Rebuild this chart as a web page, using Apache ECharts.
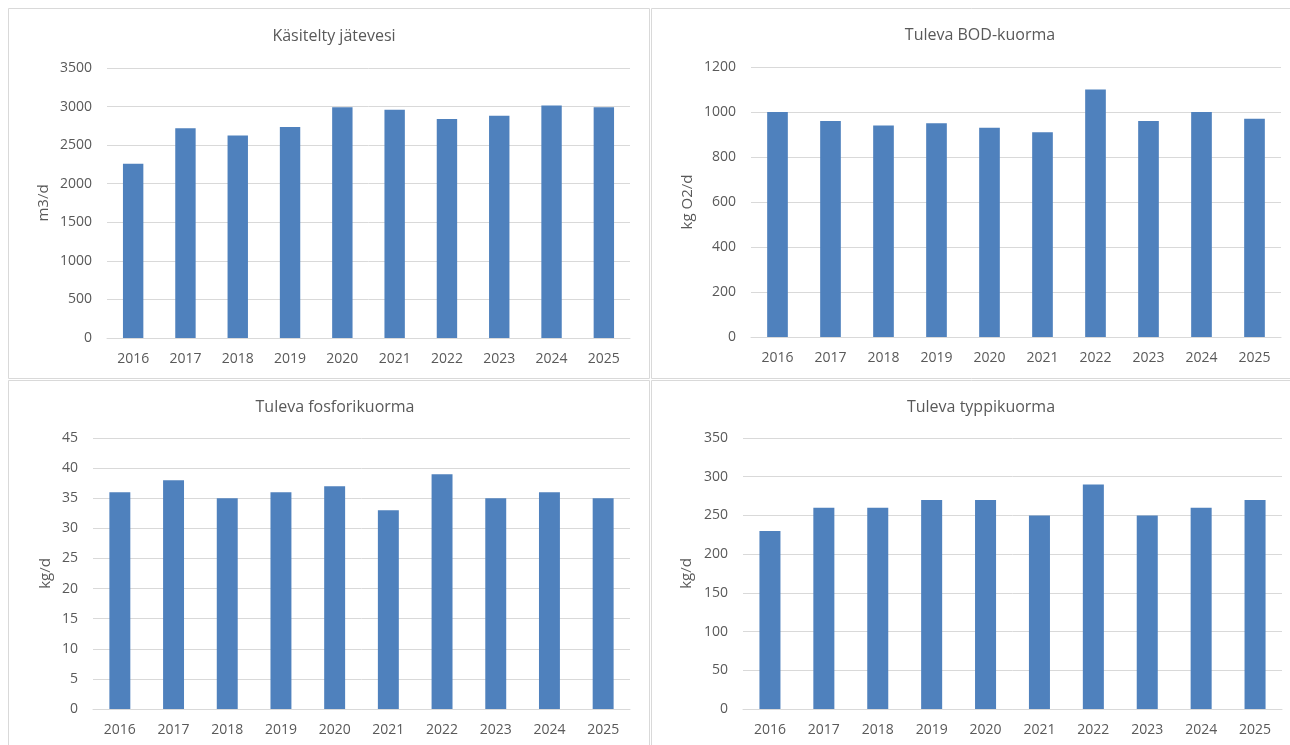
<!DOCTYPE html>
<html>
<head>
<meta charset="utf-8">
<script src="https://cdn.jsdelivr.net/npm/echarts@6/dist/echarts.min.js"></script>
<style>
  html, body { margin: 0; padding: 0; background: #fff; }
  #main { width: 1290px; height: 745px; }
</style>
</head>
<body>
<div id="main"></div>
<script>
const years = ['2016', '2017', '2018', '2019', '2020', '2021', '2022', '2023', '2024', '2025']
const treatedWater = [2260, 2720, 2625, 2735, 2990, 2960, 2840, 2880, 3015, 2990]
const bodLoad = [1000, 960, 940, 950, 930, 910, 1100, 960, 1000, 970]
const phosphorusLoad = [36, 38, 35, 36, 37, 33, 39, 35, 36, 35]
const nitrogenLoad = [230, 260, 260, 270, 270, 250, 290, 250, 260, 270]

const textColor = '#595959'
const gridColor = '#d9d9d9'
const barColor = '#4f81bd'
const font = 'Open Sans'

const panels = [
  { title: 'Käsitelty jätevesi', unit: 'm3/d', data: treatedWater, max: 3500, step: 500,
    grid: { left: 107, top: 68, width: 523, height: 270 }, titleX: 329, titleY: 23, nameGap: 56 },
  { title: 'Tuleva BOD-kuorma', unit: 'kg O2/d', data: bodLoad, max: 1200, step: 200,
    grid: { left: 751, top: 67, width: 530, height: 270 }, titleX: 975, titleY: 22, nameGap: 56 },
  { title: 'Tuleva fosforikuorma', unit: 'kg/d', data: phosphorusLoad, max: 45, step: 5,
    grid: { left: 93, top: 438, width: 537, height: 271 }, titleX: 330, titleY: 394, nameGap: 40 },
  { title: 'Tuleva typpikuorma', unit: 'kg/d', data: nitrogenLoad, max: 350, step: 50,
    grid: { left: 743, top: 438, width: 539, height: 271 }, titleX: 976, titleY: 394, nameGap: 49 }
]

const myChart = echarts.init(document.getElementById('main'))

const option = {
  animation: false,
  backgroundColor: '#fff',
  textStyle: { fontFamily: font, color: textColor },
  title: panels.map(p => ({
    text: p.title,
    left: p.titleX,
    top: p.titleY,
    textAlign: 'center',
    textStyle: { fontFamily: font, fontSize: 16, fontWeight: 'normal', color: textColor }
  })),
  grid: panels.map(p => Object.assign({ containLabel: false }, p.grid)),
  xAxis: panels.map((p, i) => ({
    type: 'category',
    gridIndex: i,
    data: years,
    axisTick: { show: false },
    axisLine: { lineStyle: { color: gridColor, width: 1 } },
    axisLabel: { color: textColor, fontSize: 14, fontFamily: font, margin: 14 }
  })),
  yAxis: panels.map((p, i) => ({
    type: 'value',
    gridIndex: i,
    min: 0,
    max: p.max,
    interval: p.step,
    name: p.unit,
    nameLocation: 'middle',
    nameRotate: 90,
    nameGap: p.nameGap,
    nameTextStyle: { color: textColor, fontSize: 15, fontFamily: font },
    axisLine: { show: false },
    axisTick: { show: false },
    axisLabel: { color: textColor, fontSize: 14, fontFamily: font, margin: 15, formatter: v => String(v) },
    splitLine: { lineStyle: { color: gridColor, width: 1 } }
  })),
  series: panels.map((p, i) => ({
    type: 'bar',
    xAxisIndex: i,
    yAxisIndex: i,
    data: p.data,
    barWidth: '39%',
    itemStyle: { color: barColor }
  })),
  graphic: [
    { type: 'rect', shape: { x: 8.5, y: 8.5, width: 641, height: 370 }, style: { fill: 'none', stroke: gridColor, lineWidth: 1 } },
    { type: 'rect', shape: { x: 651.5, y: 8.5, width: 660, height: 370 }, style: { fill: 'none', stroke: gridColor, lineWidth: 1 } },
    { type: 'rect', shape: { x: 8.5, y: 380.5, width: 641, height: 380 }, style: { fill: 'none', stroke: gridColor, lineWidth: 1 } },
    { type: 'rect', shape: { x: 651.5, y: 380.5, width: 660, height: 380 }, style: { fill: 'none', stroke: gridColor, lineWidth: 1 } }
  ]
}

myChart.setOption(option)
window.onresize = myChart.resize
</script>
</body>
</html>
